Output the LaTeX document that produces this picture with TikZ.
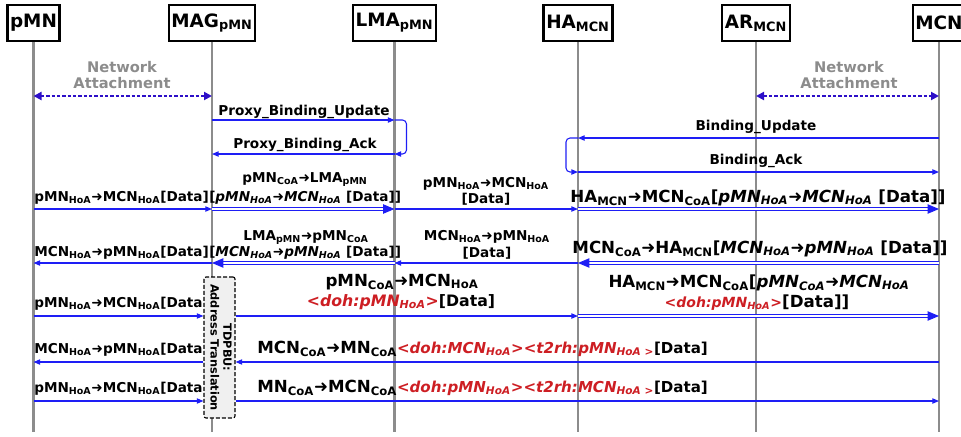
\documentclass[tikz,border=0pt]{standalone}
\usepackage{fontspec}
\setmainfont{DejaVu Sans}
\newfontfamily\arrfont{DejaVu Sans}
\usepackage{xcolor}
\usetikzlibrary{arrows.meta,positioning,calc}

\definecolor{msgblue}{RGB}{30,30,245}
\definecolor{nablue}{RGB}{45,15,200}
\definecolor{lifegray}{RGB}{140,140,140}
\definecolor{dohred}{RGB}{205,30,35}
\definecolor{boxgray}{RGB}{240,240,240}

\newcommand{\sub}[1]{\textsubscript{#1}}
\newcommand{\toarr}{{\arrfont\mdseries\upshape ➜}}
\newcommand{\dohtxt}[1]{\textcolor{dohred}{\textit{#1}}}

\tikzset{
  entity/.style={draw=black, line width=1.8pt, fill=white, inner xsep=2pt, inner ysep=0pt, minimum height=27pt, font=\bfseries\fontsize{13.8}{15}\selectfont},
  lifeline/.style={draw=lifegray, line width=1.7pt},
  lbl/.style={inner sep=0pt, anchor=base, font=\bfseries\fontsize{10.2}{12}\selectfont},
  biglbl/.style={lbl, font=\bfseries\fontsize{12.5}{14}\selectfont},
  midlbl/.style={lbl, font=\bfseries\fontsize{12.5}{14}\selectfont},
  msg/.style={draw=msgblue, line width=0.8pt, -{Triangle[length=5pt,width=4pt]}},
  tunnel/.style={draw=msgblue, line width=0.7pt, double=white, double distance=1.6pt, -{Triangle[length=8.5pt,width=7pt]}},
  attach/.style={draw=nablue, line width=1.5pt, dash pattern=on 2.5pt off 1.5pt, {Triangle[length=6pt,width=6pt]}-{Triangle[length=6pt,width=6pt]}},
  natext/.style={align=center, text=lifegray, inner sep=0pt, font=\bfseries\fontsize{11}{12}\selectfont},
  xlatebox/.style={draw=black, line width=0.8pt, dash pattern=on 3pt off 1.5pt, fill=boxgray, rounded corners=1.5pt, inner sep=0pt, minimum width=23.25pt, minimum height=105.75pt, font=\bfseries\fontsize{8.5}{9.5}\selectfont},
}

\begin{document}
\begin{tikzpicture}[x=0.75pt,y=-0.75pt]
\useasboundingbox (0,0) rectangle (961,436);

    \node[entity] (pmn) at (33.5,23) {pMN};
    \node[entity] (mag) at (212,23) {MAG\sub{pMN}};
    \node[entity] (lma) at (394.5,23) {LMA\sub{pMN}};
    \node[entity] (ha) at (578,23) {HA\sub{MCN}};
    \node[entity] (ar) at (756,23) {AR\sub{MCN}};
    \node[entity] (mcn) at (939,23) {MCN};

    \coordinate (bottom) at (0,432);
    \foreach \e in {pmn,mag,lma,ha,ar,mcn}
        \draw[lifeline] (\e.south) -- (\e |- bottom);

    \coordinate (na) at (0,96);
    \coordinate (pbu) at (0,120);
    \coordinate (pba) at (0,154);
    \coordinate (bu) at (0,138);
    \coordinate (ba) at (0,172);
    \coordinate (r1) at (0,209);
    \coordinate (r2) at (0,263);
    \coordinate (r3) at (0,316);
    \coordinate (r4) at (0,362);
    \coordinate (r5) at (0,401);

    \node[natext] (naleft) at (122,75) {Network\\Attachment};
    \draw[attach] (pmn |- na) -- (mag |- na);
    \node[natext] (naright) at (849,75) {Network\\Attachment};
    \draw[attach] (ar |- na) -- (mcn |- na);

    \node[lbl] (pbutxt) at (304,115) {Proxy\_Binding\_Update};
    \draw[msg] (mag |- pbu) -- (lma |- pbu);
    \draw[msg, rounded corners=3pt] (lma |- pbu) -- ++(12,0) -- ++(0,34) -- (lma |- pba);
    \node[lbl] (pbatxt) at (305,148) {Proxy\_Binding\_Ack};
    \draw[msg] (lma |- pba) -- (mag |- pba);

    \node[lbl] (butxt) at (756,130) {Binding\_Update};
    \draw[msg] (mcn |- bu) -- (ha |- bu);
    \draw[msg, rounded corners=3pt] (ha |- bu) -- ++(-12,0) -- ++(0,34) -- (ha |- ba);
    \node[lbl] (batxt) at (756,164) {Binding\_Ack};
    \draw[msg] (ha |- ba) -- (mcn |- ba);

    % pMN -> MCN through the tunnels
    \node[lbl, anchor=base west] (r1a) at (34,201) {pMN\sub{HoA}\toarr MCN\sub{HoA}[Data]};
    \draw[msg] (pmn |- r1) -- (mag |- r1);
    \node[lbl] (r1b) at (305,182) {pMN\sub{CoA}\toarr LMA\sub{pMN}};
    \node[lbl, anchor=base west] (r1c) at (209,201) {[\textit{pMN\sub{HoA}\toarr MCN\sub{HoA}} [Data]]};
    \draw[tunnel] (mag |- r1) -- (lma |- r1);
    \node[lbl] (r1d) at (486,187) {pMN\sub{HoA}\toarr MCN\sub{HoA}};
    \node[lbl] (r1e) at (486,203) {[Data]};
    \draw[msg] (lma |- r1) -- (ha |- r1);
    \node[biglbl] (r1f) at (758,202) {HA\sub{MCN}\toarr MCN\sub{CoA}[\textit{pMN\sub{HoA}\toarr MCN\sub{HoA}} [Data]]};
    \draw[tunnel] (ha |- r1) -- (mcn |- r1);

    % MCN -> pMN through the tunnels
    \node[lbl, anchor=base west] (r2a) at (34,256) {MCN\sub{HoA}\toarr pMN\sub{HoA}[Data]};
    \draw[msg] (mag |- r2) -- (pmn |- r2);
    \node[lbl] (r2b) at (306,240) {LMA\sub{pMN}\toarr pMN\sub{CoA}};
    \node[lbl, anchor=base west] (r2c) at (209,256) {[\textit{MCN\sub{HoA}\toarr pMN\sub{HoA}} [Data]]};
    \draw[tunnel] (lma |- r2) -- (mag |- r2);
    \node[lbl] (r2d) at (487,240) {MCN\sub{HoA}\toarr pMN\sub{HoA}};
    \node[lbl] (r2e) at (487,257) {[Data]};
    \draw[msg] (ha |- r2) -- (lma |- r2);
    \node[biglbl] (r2f) at (760,253) {MCN\sub{CoA}\toarr HA\sub{MCN}[\textit{MCN\sub{HoA}\toarr pMN\sub{HoA}} [Data]]};
    \draw[tunnel] (mcn |- r2) -- (ha |- r2);

    \node[xlatebox] (tdpbu) at (219.5,347.5) {\rotatebox[origin=c]{-90}{\begin{tabular}{@{}c@{}}TDPBU:\\Address Translation\end{tabular}}};

    % address translation
    \node[lbl, anchor=base west] (r3a) at (34,307) {pMN\sub{HoA}\toarr MCN\sub{HoA}[Data};
    \draw[msg] (pmn |- r3) -- (tdpbu.west |- r3);
    \node[midlbl] (r3b) at (402,286) {pMN\sub{CoA}\toarr MCN\sub{HoA}};
    \node[midlbl, font=\bfseries\fontsize{11.8}{14}\selectfont] (r3c) at (401,306) {\dohtxt{<doh:pMN\sub{HoA}>}[Data]};
    \draw[msg] (tdpbu.east |- r3) -- (ha |- r3);
    \node[biglbl] (r3d) at (759,287) {HA\sub{MCN}\toarr MCN\sub{CoA}[\textit{pMN\sub{CoA}\toarr MCN\sub{HoA}}};
    \node[biglbl] (r3e) at (757,307) {{\fontsize{10.5}{12}\selectfont\dohtxt{<doh:pMN\sub{HoA}>}}[Data]]};
    \draw[tunnel] (ha |- r3) -- (mcn |- r3);

    \node[lbl, anchor=base west] (r4a) at (34,353) {MCN\sub{HoA}\toarr pMN\sub{HoA}[Data};
    \draw[msg] (tdpbu.west |- r4) -- (pmn |- r4);
    \node[biglbl, anchor=base west] (r4b) at (257,353) {MCN\sub{CoA}\toarr MN\sub{CoA}{\fontsize{11.3}{14}\selectfont\dohtxt{<doh:MCN\sub{HoA}><t2rh:pMN\sub{HoA >}}[Data]}};
    \draw[msg] (mcn |- r4) -- (tdpbu.east |- r4);

    \node[lbl, anchor=base west] (r5a) at (34,392) {pMN\sub{HoA}\toarr MCN\sub{HoA}[Data};
    \draw[msg] (pmn |- r5) -- (tdpbu.west |- r5);
    \node[biglbl, anchor=base west] (r5b) at (257,392) {MN\sub{CoA}\toarr MCN\sub{CoA}{\fontsize{11.3}{14}\selectfont\dohtxt{<doh:pMN\sub{HoA}><t2rh:MCN\sub{HoA >}}[Data]}};
    \draw[msg] (tdpbu.east |- r5) -- (mcn |- r5);

\end{tikzpicture}
\end{document}
